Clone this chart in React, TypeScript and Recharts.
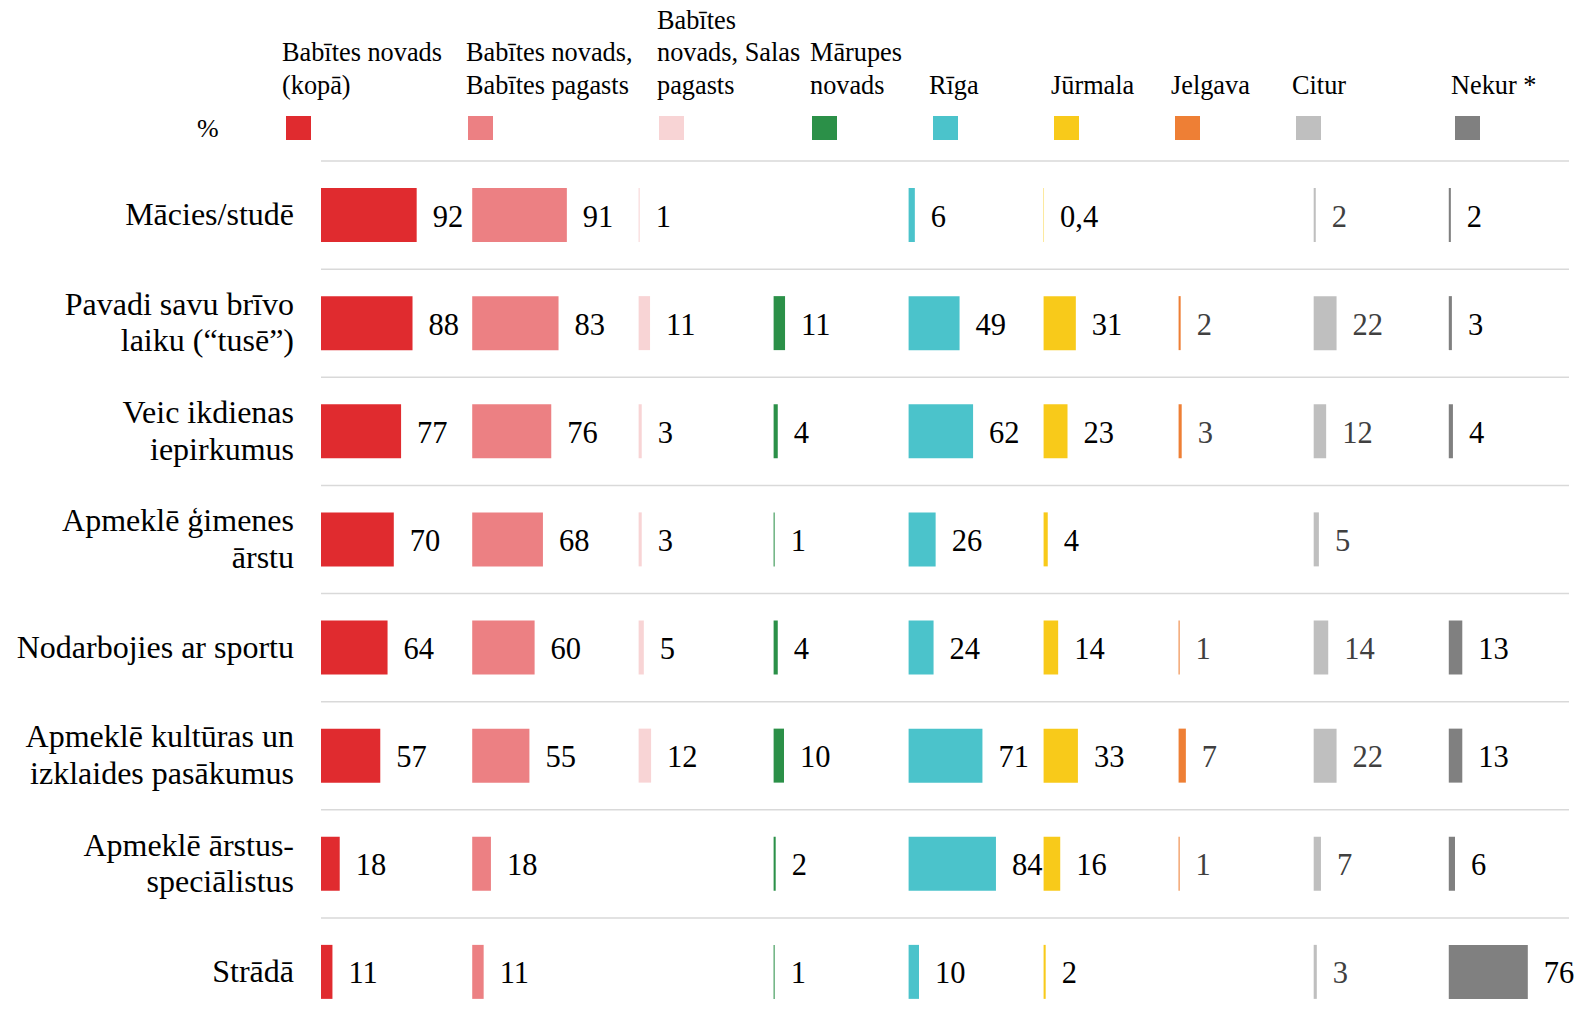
import React from "react";
import { BarChart, Bar, XAxis, YAxis, CartesianGrid, Legend, LabelList } from "recharts";

// ---------------------------------------------------------------
// Data: one row per activity, one array per place (values in %)
// null = no answer shown for that cell
// ---------------------------------------------------------------
const ROWS = [
  ["Mācies/studē"],
  ["Pavadi savu brīvo", "laiku (“tusē”)"],
  ["Veic ikdienas", "iepirkumus"],
  ["Apmeklē ģimenes", "ārstu"],
  ["Nodarbojies ar sportu"],
  ["Apmeklē kultūras un", "izklaides pasākumus"],
  ["Apmeklē ārstus-", "speciālistus"],
  ["Strādā"],
];

const BABITES_KOPA = [92, 88, 77, 70, 64, 57, 18, 11];
const BABITES_PAGASTS = [91, 83, 76, 68, 60, 55, 18, 11];
const SALAS_PAGASTS = [1, 11, 3, 3, 5, 12, null, null];
const MARUPES = [null, 11, 4, 1, 4, 10, 2, 1];
const RIGA = [6, 49, 62, 26, 24, 71, 84, 10];
const JURMALA = [0.4, 31, 23, 4, 14, 33, 16, 2];
const JELGAVA = [null, 2, 3, null, 1, 7, 1, null];
const CITUR = [2, 22, 12, 5, 14, 22, 7, 3];
const NEKUR = [2, 3, 4, null, 13, 13, 6, 76];

const SERIES = [
  { name: "Babītes novads (kopā)", lines: ["Babītes novads", "(kopā)"], values: BABITES_KOPA, color: "#e02b2f", text: "#000" },
  { name: "Babītes novads, Babītes pagasts", lines: ["Babītes novads,", "Babītes pagasts"], values: BABITES_PAGASTS, color: "#ec8083", text: "#000" },
  { name: "Babītes novads, Salas pagasts", lines: ["Babītes", "novads, Salas", "pagasts"], values: SALAS_PAGASTS, color: "#f8d4d5", text: "#000" },
  { name: "Mārupes novads", lines: ["Mārupes", "novads"], values: MARUPES, color: "#2b9048", text: "#000" },
  { name: "Rīga", lines: ["Rīga"], values: RIGA, color: "#4bc3cb", text: "#000" },
  { name: "Jūrmala", lines: ["Jūrmala"], values: JURMALA, color: "#f8ca1a", text: "#000" },
  { name: "Jelgava", lines: ["Jelgava"], values: JELGAVA, color: "#ee7f35", text: "#404040" },
  { name: "Citur", lines: ["Citur"], values: CITUR, color: "#bfbfbf", text: "#404040" },
  { name: "Nekur *", lines: ["Nekur *"], values: NEKUR, color: "#808080", text: "#000" },
];

// column slot width for each place, in % units (small multiples share one axis)
const SLOTS = [145.4, 160, 129.8, 129.8, 129.8, 129.8, 129.9, 129.9];
const X_MAX = 1200;

// header layout (px)
const HEADER_TEXT_X = [282, 466, 657, 810, 929, 1051, 1171, 1292, 1451];
const HEADER_SWATCH_X = [286, 468, 659, 812, 933, 1054, 1175, 1296, 1455];

const FONT = "'Liberation Serif', 'Times New Roman', serif";

const rowKey = (lines: string[]) => lines.join(" ");

// stacked table: value bar + invisible spacer that fills the column slot
const tableData = ROWS.map((lines, r) => {
  const row: Record<string, any> = { key: rowKey(lines) };
  SERIES.forEach((s, i) => {
    const v = s.values[r];
    row[`v${i}`] = v ?? 0;
    row[`l${i}`] = v;
    if (i < SLOTS.length) row[`s${i}`] = SLOTS[i] - (v ?? 0);
  });
  return row;
});

const fmt = (v: number) => String(v).replace(".", ",");

const makeValueLabel = (color: string) => (props: any) => {
  const { x, y, width, height, value } = props;
  if (value == null) return null;
  return (
    <text
      x={Number(x) + Number(width) + 16}
      y={Number(y) + Number(height) / 2 + 11.5}
      fill={color}
      fontSize={30.5}
      fontFamily={FONT}
    >
      {fmt(value)}
    </text>
  );
};

const RowTick = (props: any) => {
  const { x, y, payload } = props;
  const lines = ROWS.find((l) => rowKey(l) === payload.value) ?? [String(payload.value)];
  const lh = 36.6;
  const tx = x - 19;
  const y0 = y + 10 - ((lines.length - 1) * lh) / 2;
  return (
    <text x={tx} y={y0} textAnchor="end" fill="#000" fontSize={32} fontFamily={FONT}>
      {lines.map((t, i) => (
        <tspan key={i} x={tx} y={y0 + i * lh}>
          {t}
        </tspan>
      ))}
    </text>
  );
};

const Header = (props: any) => {
  const payload = (props.payload ?? []) as { value: string; color: string }[];
  return (
    <svg width={1580} height={161} style={{ display: "block" }}>
      <text x={197} y={137} fontSize={26} fontFamily={FONT} fill="#000">
        %
      </text>
      {payload.map((p) => {
        const i = SERIES.findIndex((s) => s.name === p.value);
        if (i < 0) return null;
        const lines = SERIES[i].lines;
        return (
          <g key={p.value}>
            {lines.map((t, k) => (
              <text
                key={k}
                x={HEADER_TEXT_X[i]}
                y={93.5 - (lines.length - 1 - k) * 32.3}
                fontSize={26.3}
                fontFamily={FONT}
                fill="#000"
              >
                {t}
              </text>
            ))}
            <rect x={HEADER_SWATCH_X[i]} y={116} width={25} height={24} fill={p.color} />
          </g>
        );
      })}
    </svg>
  );
};

export default function App() {
  return (
    <div
      style={{
        position: "absolute",
        left: 0,
        top: 0,
        width: 1580,
        height: 1023,
        overflow: "hidden",
        background: "#fff",
      }}
    >
      <BarChart
        width={1580}
        height={1026}
        data={tableData}
        layout="vertical"
        margin={{ top: 161, right: 11, bottom: 0, left: 0 }}
        barSize={54}
        barCategoryGap={0}
      >
        <CartesianGrid
          vertical={false}
          stroke="#d9d9d9"
          strokeWidth={1.5}
          horizontalCoordinatesGenerator={({ offset }: any) =>
            ROWS.map((_, i) => offset.top + (i * offset.height) / ROWS.length)
          }
        />
        <XAxis type="number" domain={[0, X_MAX]} hide />
        <YAxis
          type="category"
          dataKey="key"
          width={321}
          axisLine={false}
          tickLine={false}
          interval={0}
          tick={<RowTick />}
        />
        <Legend
          layout="horizontal"
          verticalAlign="middle"
          align="center"
          wrapperStyle={{ top: 0, left: 0, width: 1580, height: 161 }}
          content={<Header />}
        />
        {SERIES.flatMap((s, i) => {
          const bars = [
            <Bar
              key={`v${i}`}
              dataKey={`v${i}`}
              name={s.name}
              stackId="row"
              fill={s.color}
              isAnimationActive={false}
            >
              <LabelList dataKey={`l${i}`} content={makeValueLabel(s.text)} />
            </Bar>,
          ];
          if (i < SLOTS.length) {
            bars.push(
              <Bar
                key={`s${i}`}
                dataKey={`s${i}`}
                stackId="row"
                fill="transparent"
                legendType="none"
                isAnimationActive={false}
              />
            );
          }
          return bars;
        })}
      </BarChart>
    </div>
  );
}
